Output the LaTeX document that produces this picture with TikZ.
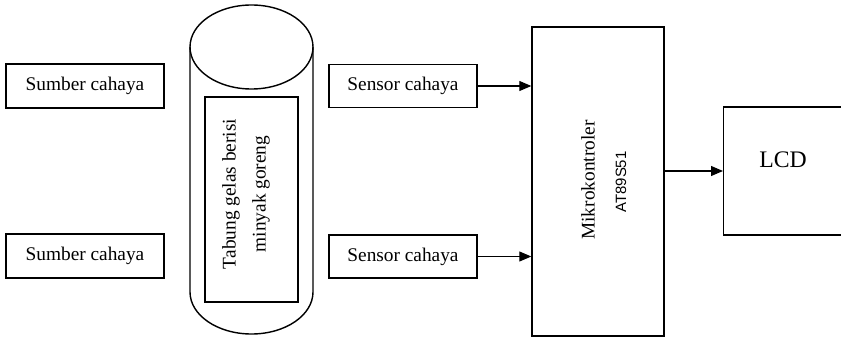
\documentclass[tikz,border=0pt]{standalone}
\usepackage{fontspec}
\setmainfont{Liberation Serif}
\newfontfamily\chipfont{Liberation Sans}
\usetikzlibrary{arrows.meta}
\begin{document}
\begin{tikzpicture}[x=0.2mm,y=0.2mm,->,>={Triangle[length=2.4mm,width=2mm]},
    kotak/.style={draw,line width=0.8pt,inner sep=0pt},
    teks/.style={font=\fontsize{11}{13}\selectfont}]
  \useasboundingbox (0,0) rectangle (841,338);
  % sumber dan sensor
  \node[kotak,teks,minimum width=31.6mm,minimum height=8.8mm] (sumber1) at (85,252) {Sumber cahaya};
  \node[kotak,teks,minimum width=31.6mm,minimum height=8.8mm] (sumber2) at (85,82) {Sumber cahaya};
  \node[kotak,teks,minimum width=29.6mm,minimum height=8.6mm] (sensor1) at (403,252) {Sensor cahaya};
  \node[kotak,teks,minimum width=29.6mm,minimum height=8.6mm] (sensor2) at (403,81.5) {Sensor cahaya};
  % tabung
  \draw[-,line width=0.8pt] (251.5,291) ellipse [x radius=61.5,y radius=42];
  \draw[-,line width=0.8pt] (190,291) -- (190,46) arc [start angle=180,end angle=360,x radius=61.5,y radius=42] -- (313,291);
  \node[kotak,minimum width=18.6mm,minimum height=41mm] (tabung) at (251.5,138.5) {};
  \node[teks,rotate=90,align=center] (isi) at (246,144) {Tabung gelas berisi\\[4pt]minyak goreng};
  % mikrokontroler dan LCD
  \node[kotak,minimum width=26.4mm,minimum height=61.8mm] (mcu) at (598,156.5) {};
  \node[teks,rotate=90] (mcunama) at (588,158) {Mikrokontroler};
  \node[rotate=90,font=\chipfont\fontsize{8.5}{10}\selectfont] (chip) at (621,156) {AT89S51};
  \node[kotak,minimum width=60mm,minimum height=25.6mm,anchor=west] (lcd) at (723,167) {};
  \node[font=\fontsize{13.5}{16}\selectfont] (lcdnama) at (783,178) {LCD};
  \draw[line width=0.6pt] (sensor1.east) -- (sensor1.east -| mcu.west);
  \draw[line width=0.6pt] (sensor2.east) -- (sensor2.east -| mcu.west);
  \draw[line width=0.6pt] (lcd.west -| mcu.east) -- (lcd.west);
\end{tikzpicture}
\end{document}
